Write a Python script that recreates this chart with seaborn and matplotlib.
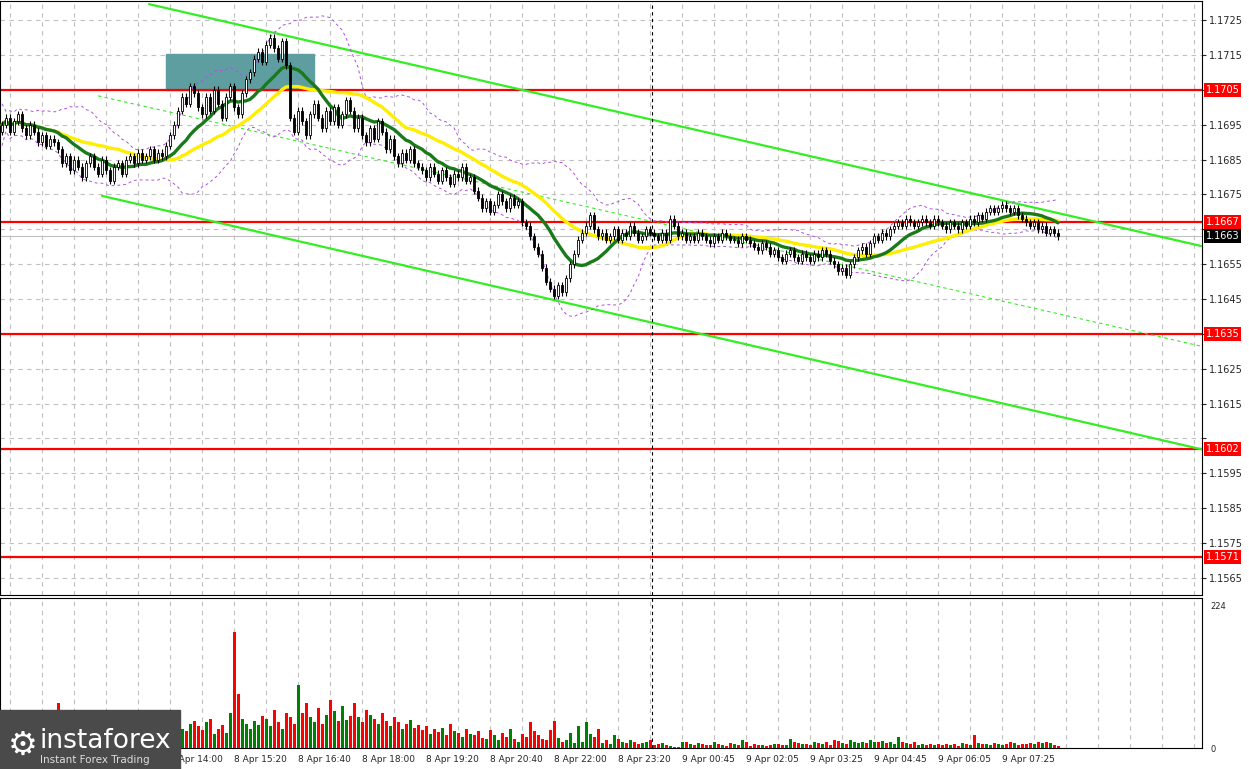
import numpy as np
import pandas as pd
import matplotlib
matplotlib.use("Agg")
import matplotlib.pyplot as plt
import matplotlib.patches as mpatches
import seaborn as sns

# ── Data: 5-min EUR/USD candles, closes in pips above 1.1600 ──
closes_pips = [
    95, 97, 93, 96, 98, 94, 92, 95, 93, 90, 92, 89, 91, 90,
    88, 84, 86, 82, 85, 83, 80, 84, 86, 83, 81, 85, 82, 79, 83, 84, 81, 85,
    86, 84, 87, 85, 86, 88, 85, 87, 86, 89,
    92, 95, 99, 103, 101, 106,
    104, 100, 98, 103, 99, 105, 101, 97, 103, 106, 100, 98, 104, 108, 110,
    114, 116, 113, 118, 120, 117, 114, 119, 112,
    97, 93, 99, 96, 92, 98, 101, 97, 94, 99, 96, 100, 95, 98, 102, 99, 94, 97,
    92, 90, 94, 91, 96, 93, 88, 91, 86, 84, 87, 85, 88, 84, 83,
    82, 80, 83, 81, 79, 82, 80, 78, 81, 80, 83, 79, 80,
    76, 74, 71, 73, 70, 72, 75, 73, 71, 74, 72, 73,
    67,
    66, 63, 60, 58, 54, 50, 48, 46, 49,
    47, 51, 55, 58, 62, 64,
    66, 69, 65, 63, 64, 62, 63, 65, 62, 64, 63, 66, 64, 62, 63, 65, 64,
    63, 62, 64, 62, 68, 66, 63, 64, 62, 63, 62, 64, 63, 62, 61, 63, 62, 64, 63, 62, 62, 61, 63, 62,
    61, 60, 59, 61, 60, 58, 59, 57, 56, 58, 59, 57, 56, 58, 57, 56, 58, 57, 59, 58, 56, 55, 53, 54, 52,
    55, 57, 59, 60, 58, 61, 63, 62, 64, 63, 65,
    66, 67, 66, 68, 67, 66, 67, 68, 67, 66, 68, 67, 66, 65, 67, 66, 65, 67, 66, 68, 67, 69, 68,
    70, 71, 70, 71, 72, 71, 70, 71,
    69, 68, 67, 66, 67, 65, 66, 64, 65, 64, 63,
]
volumes = [
    42, 45, 40, 38, 47, 44, 36, 40, 43, 39, 41, 45, 50, 48,
    70,
    35, 30, 42, 38, 33, 28, 40, 36, 30, 26, 38, 44, 30, 28, 35, 40, 32, 25, 30, 36, 28, 33, 38, 30, 26, 34, 40, 29, 35, 31,
    30, 26, 38, 42, 35, 28, 40, 45, 22, 30, 36, 24, 55,
    182,
    85, 45, 38, 30, 42, 36, 50, 45, 35, 60, 40, 30, 55, 48, 38,
    98,
    55, 70, 48, 40, 62, 38, 52, 75, 58, 42, 66, 44, 50, 70, 48, 40,
    60, 52, 45, 38, 55, 42, 35, 48, 40, 30, 38, 44, 32, 36,
    28, 35, 22, 30, 25, 32, 20, 38, 26, 24, 18, 30, 22, 20, 26, 16, 14, 28, 20, 12, 24, 18, 30, 14, 10, 22,
    18, 40, 26, 20, 14, 12, 28, 42, 16, 10, 12, 24, 8, 34, 10, 40,
    22, 18, 30, 8, 12, 6, 20, 14, 10, 8, 12, 9, 6, 8, 10, 12,
    4, 6, 8, 5, 3, 2, 2, 10, 9, 7, 5, 8, 6, 4, 5, 9, 7, 4, 3, 8, 6, 5, 12, 10,
    3, 6, 5, 4, 3, 5, 7, 6, 4, 5, 14, 10, 8, 6, 7, 5, 9, 8, 6, 10, 5, 12, 11, 8, 7,
    12, 9, 8, 10, 8, 12, 9, 10, 11, 8, 9,
    6, 18, 10, 8, 6, 9, 5, 7, 4, 6, 5, 7, 5, 6, 4, 7, 3, 8, 6, 5, 20, 8, 6,
    7, 5, 8, 6, 4, 6, 9, 8,
    5, 7, 6, 8, 7, 9, 8, 9, 8, 4, 3,
]
level_prices = [1.1705, 1.1667, 1.1635, 1.1602, 1.1571]
time_labels = ["8 Apr 14:00", "8 Apr 15:20", "8 Apr 16:40", "8 Apr 18:00", "8 Apr 19:20",
               "8 Apr 20:40", "8 Apr 22:00", "8 Apr 23:20", "9 Apr 00:45", "9 Apr 02:05",
               "9 Apr 03:25", "9 Apr 04:45", "9 Apr 06:05", "9 Apr 07:25"]
channel_upper = [(36.75, 1.17296), (312, 1.16570)]
channel_lower = [(25, 1.16746), (312, 1.15987)]
channel_mid = [(24, 1.17033), (312, 1.16283)]
last_price = 1.1663

df = pd.DataFrame({"close": 1.16 + np.array(closes_pips) / 10000, "volume": volumes})
df["idx"] = np.arange(len(df))
df["open"] = df["close"].shift(1).fillna(df["close"].iloc[0] - 0.0002)
df["high"] = df[["open", "close"]].max(axis=1) + 0.0001
df["low"] = df[["open", "close"]].min(axis=1) - 0.0001
df["ma_fast"] = df["close"].rolling(14, min_periods=1).mean()
df["ma_slow"] = df["close"].rolling(30, min_periods=1).mean()
bb_mid = df["close"].rolling(20, min_periods=1).mean()
bb_std = df["close"].rolling(20, min_periods=2).std().fillna(0.0003)
df["bb_up"] = bb_mid + 2 * bb_std
df["bb_dn"] = bb_mid - 2 * bb_std

sns.set_style("white")
plt.rcParams["font.family"] = ["DejaVu Sans"]

fig = plt.figure(figsize=(12.49, 7.69), dpi=100)
W, H = 1249, 769
ax = fig.add_axes([0, 1 - 595 / H, 1202 / W, 594 / H])
axv = fig.add_axes([0, 1 - 748 / H, 1202 / W, 150 / H], sharex=ax)

x_max = 1202 / 4
ax.set_xlim(-0.5, x_max - 0.5)
ax.set_ylim(1.15601, 1.17305)

# grid
yt = np.arange(1.1565, 1.1730, 0.0010)
ax.set_yticks(yt)
labels = ["" if min(abs(v - p) for p in level_prices + [last_price]) < 0.00035 else f"{v:.4f}" for v in yt]
ax.set_yticklabels(labels, fontsize=7)
ax.yaxis.tick_right()
ax.tick_params(axis="y", length=3, pad=2)
vgrid = np.arange(2, x_max, 8)
for g in vgrid:
    ax.axvline(g, color="#c0c0c0", ls=(0, (4, 4)), lw=0.8, zorder=0)
    axv.axvline(g, color="#c0c0c0", ls=(0, (4, 4)), lw=0.8, zorder=0)
for v in yt:
    ax.axhline(v, color="#c0c0c0", ls=(0, (4, 4)), lw=0.8, zorder=0)

# teal zone
ax.add_patch(mpatches.Rectangle((41, 1.1705), 37, 0.00102, color="#5f9ea0", zorder=1))

# red levels
for p in level_prices:
    ax.axhline(p, color="#ff0000", lw=1.6, zorder=2)
ax.axhline(last_price, color="#c0c0c0", lw=0.8, zorder=1)

# channels
for seg, ls in [(channel_upper, "-"), (channel_lower, "-"), (channel_mid, (0, (3, 3)))]:
    ax.plot([seg[0][0], seg[1][0]], [seg[0][1], seg[1][1]], color="#33ee22",
            lw=1.6 if ls == "-" else 0.8, ls=ls, zorder=3)

# bands and MAs
sns.lineplot(data=df, x="idx", y="bb_up", ax=ax, color="#b050e0", lw=0.7, ls=(0, (3, 3)), zorder=3)
sns.lineplot(data=df, x="idx", y="bb_dn", ax=ax, color="#b050e0", lw=0.7, ls=(0, (3, 3)), zorder=3)
sns.lineplot(data=df, x="idx", y="ma_slow", ax=ax, color="#ffee00", lw=2.4, zorder=4)
sns.lineplot(data=df, x="idx", y="ma_fast", ax=ax, color="#1a7a1a", lw=2.4, zorder=5)

# candles
up = df["close"] >= df["open"]
ax.vlines(df["idx"], df["low"], df["high"], color="black", lw=0.8, zorder=6)
body_lo = df[["open", "close"]].min(axis=1)
body_h = (df["close"] - df["open"]).abs().clip(lower=0.00003)
ax.bar(df["idx"], body_h, bottom=body_lo, width=0.7,
       color=np.where(up, "white", "black"), edgecolor="black", lw=0.6, zorder=7)

ax.axvline(162.5, color="black", ls=(0, (3, 3)), lw=0.8, zorder=8)
axv.axvline(162.5, color="black", ls=(0, (3, 3)), lw=0.8, zorder=8)

# right-axis price boxes
for p in level_prices:
    ax.text(1.003, p, f"{p:.4f}", transform=ax.get_yaxis_transform(), fontsize=7,
            color="white", va="center", ha="left",
            bbox=dict(boxstyle="square,pad=0.2", fc="#ff0000", ec="none"), zorder=10, clip_on=False)
ax.text(1.003, last_price, f"{last_price:.4f}", transform=ax.get_yaxis_transform(), fontsize=7,
        color="white", va="center", ha="left",
        bbox=dict(boxstyle="square,pad=0.2", fc="black", ec="none"), zorder=10, clip_on=False)

# volume
axv.bar(df["idx"], df["volume"], width=0.75, color=np.where(up, "#008000", "#ff0000"),
        lw=0, zorder=3)
axv.set_ylim(0, 235)
axv.set_yticks([0, 224])
axv.set_yticklabels(["0", "224"], fontsize=6)
axv.yaxis.tick_right()
axv.tick_params(axis="y", length=0, pad=6)
tick_pos = [42 + 16 * k for k in range(len(time_labels))]
axv.set_xticks(tick_pos)
axv.set_xticklabels(time_labels, fontsize=6.5, ha="left")
axv.tick_params(axis="x", length=3, pad=2)
plt.setp(ax.get_xticklabels(), visible=False)
ax.tick_params(axis="x", length=0)

for a in (ax, axv):
    for s in a.spines.values():
        s.set_color("black")
        s.set_linewidth(0.8)
    a.set_xlabel("")
    a.set_ylabel("")

# logo
fig.patches.append(mpatches.Rectangle((0, 0), 180 / W, 59 / H, transform=fig.transFigure,
                                      color="#4a4a4a", zorder=20))
fig.text(8 / W, 24 / H, "\u2699", fontsize=24, color="white", zorder=21, va="center")
fig.text(40 / W, 28 / H, "instaforex", fontsize=19, color="white", zorder=21, va="center")
fig.text(40 / W, 9 / H, "Instant Forex Trading", fontsize=7.5, color="#dddddd", zorder=21, va="center")

fig.savefig("out.png", dpi=100)
